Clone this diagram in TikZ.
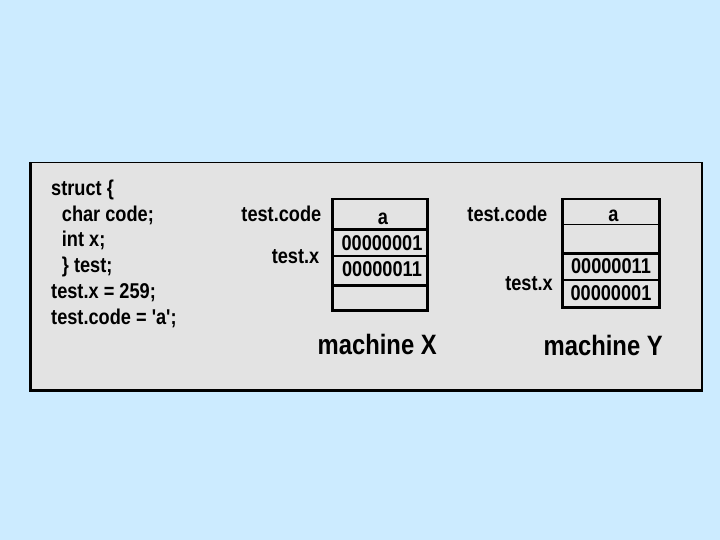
\documentclass[tikz,border=0pt]{standalone}
\usepackage{fontspec}
\setmainfont{Liberation Sans}
\newfontfamily\cf[FakeStretch=0.85]{Liberation Sans Bold}
\definecolor{bgblue}{HTML}{CCEBFF}
\definecolor{panelgray}{HTML}{E3E3E3}
\tikzset{
  txt/.style={inner sep=0pt, font=\cf\fontsize{21.4}{24}\selectfont},
  big/.style={inner sep=0pt, font=\cf\fontsize{28}{32}\selectfont},
  cell/.style={draw=black, line width=1.5pt, fill=panelgray, inner sep=0pt, anchor=north west},
  frame/.style={draw=black, line width=2.2pt},
}
\begin{document}
\begin{tikzpicture}[x=1pt,y=-1pt]
\fill[bgblue] (0,0) rectangle (720,540);
\useasboundingbox (0,0) rectangle (720,540);
% panel
\node[draw=black, line width=1.5pt, fill=panelgray, minimum width=671pt, minimum height=227pt, inner sep=0pt, anchor=north west] (panel) at (30,162) {};
\draw[line width=2.6pt] (panel.north west) -- (panel.south west) -- (panel.south east);
% code
\node[txt, anchor=base west] (c1) at (51,195.7) {struct \{};
\node[txt, anchor=base west] (c2) at (61.7,221.3) {char code;};
\node[txt, anchor=base west] (c3) at (61.7,247) {int x;};
\node[txt, anchor=base west] (c4) at (61.7,272.7) {\} test;};
\node[txt, anchor=base west] (c5) at (51,298.5) {test.x = 259;};
\node[txt, anchor=base west] (c6) at (51,324.5) {test.code = 'a';};
% machine X
\node[cell, minimum width=94pt, minimum height=29pt] (x1) at (332,199) {};
\node[cell, minimum width=94pt, minimum height=27pt] (x2) at (332,228) {};
\node[cell, minimum width=94pt, minimum height=29pt] (x3) at (332,255) {};
\node[cell, minimum width=94pt, minimum height=25pt] (x4) at (332,284) {};
\draw[frame] (x1.north west) rectangle (x4.south east);
\draw[line width=2.4pt] (x1.south west) -- (x1.south east);
\draw[line width=2.4pt] (x3.south west) -- (x3.south east);
\node[txt, anchor=base] (xa) at (383,224.3) {a};
\node[txt, anchor=base] (xb1) at (382,250.5) {00000001};
\node[txt, anchor=base] (xb2) at (382,276) {00000011};
\node[txt, anchor=base east] (xlc) at (321.5,222) {test.code};
\node[txt, anchor=base east] (xlx) at (319.5,263.5) {test.x};
\node[big, anchor=base west] (mx) at (317.5,354.3) {machine X};
% machine Y
\node[cell, minimum width=96pt, minimum height=25pt] (y1) at (562,199) {};
\node[cell, minimum width=96pt, minimum height=28pt] (y2) at (562,224) {};
\node[cell, minimum width=96pt, minimum height=27pt] (y3) at (562,252) {};
\node[cell, minimum width=96pt, minimum height=27pt] (y4) at (562,279) {};
\draw[frame] (y1.north west) rectangle (y4.south east);
\draw[line width=2.4pt] (y2.south west) -- (y2.south east);
\node[txt, anchor=base] (ya) at (613.5,221.5) {a};
\node[txt, anchor=base] (yb1) at (611,273.3) {00000011};
\node[txt, anchor=base] (yb2) at (611,300) {00000001};
\node[txt, anchor=base east] (ylc) at (547.5,222) {test.code};
\node[txt, anchor=base east] (ylx) at (553,290) {test.x};
\node[big, anchor=base west] (my) at (543.5,355) {machine Y};
\end{tikzpicture}
\end{document}
